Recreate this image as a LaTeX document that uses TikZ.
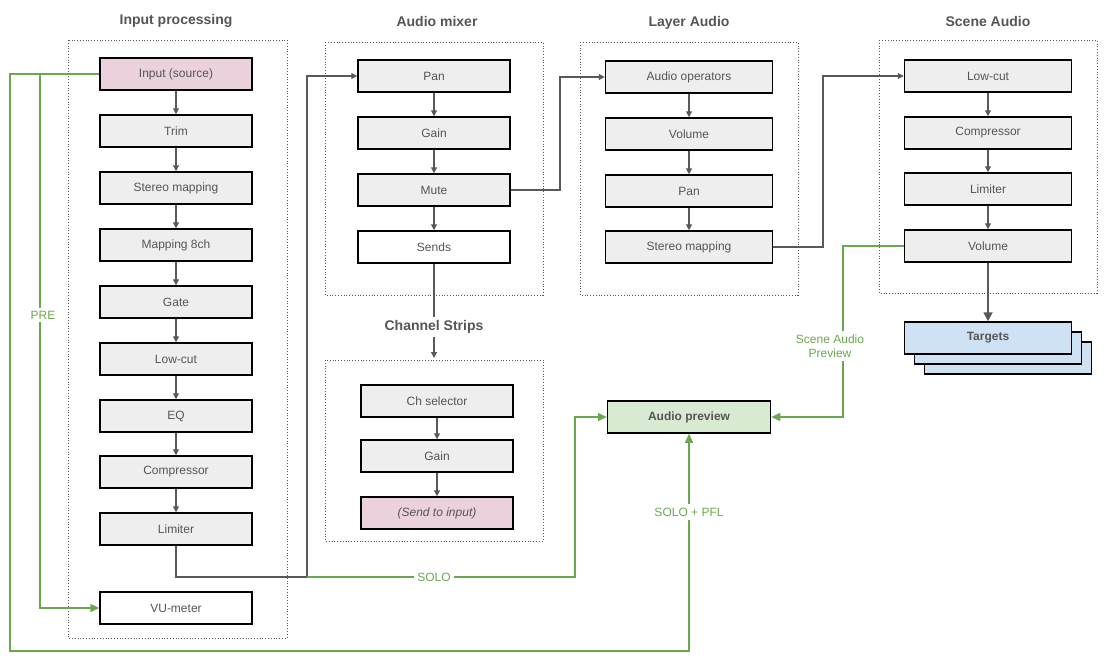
\documentclass[tikz,border=0pt]{standalone}
\usepackage{fontspec}
\setmainfont{Liberation Sans}
\usepackage{xcolor}
\usetikzlibrary{arrows.meta}
\definecolor{boxgray}{HTML}{EEEEEE}
\definecolor{boxpink}{HTML}{EAD1DC}
\definecolor{boxblue}{HTML}{CFE2F3}
\definecolor{boxgreen}{HTML}{D9EAD3}
\definecolor{linegreen}{HTML}{6AA84F}
\definecolor{linegray}{HTML}{595959}
\definecolor{txtgray}{HTML}{555555}
\tikzset{
  blk/.style={draw=black, line width=1.5pt, fill=boxgray, minimum width=152pt, minimum height=32pt, inner sep=0pt, text=txtgray, font=\fontsize{12}{14}\selectfont},
  wblk/.style={blk, minimum width=167pt},
  frame/.style={draw=linegray, dotted, line width=0.8pt},
  ttl/.style={text=txtgray, font=\bfseries\fontsize{14}{16}\selectfont},
  flow/.style={draw=linegray, line width=1.2pt, -{Triangle[length=6pt,width=6pt]}},
  gflow/.style={draw=linegreen, line width=1.5pt, -{Triangle[length=9pt,width=8pt]}},
  glbl/.style={text=linegreen, fill=white, font=\fontsize{12}{14}\selectfont, align=center}
}
\begin{document}
\begin{tikzpicture}[x=1pt,y=-1pt]
\useasboundingbox (0,0) rectangle (1115,661);

% frames
\draw[frame] (68,40) rectangle (287,638);
\draw[frame] (325,42) rectangle (543,295);
\draw[frame] (325,360) rectangle (543,541);
\draw[frame] (580,42) rectangle (798,295);
\draw[frame] (879,40) rectangle (1097,293);

% titles
\node[ttl] (tin) at (176,21) {Input processing};
\node[ttl] (tmix) at (437,21) {Audio mixer};
\node[ttl] (tcs) at (434,327) {Channel Strips};
\node[ttl] (tla) at (689,23) {Layer Audio};
\node[ttl] (tsa) at (988,21) {Scene Audio};

% input processing
\node[blk, fill=boxpink] (in1) at (176,74) {Input (source)};
\node[blk] (in2) at (176,131) {Trim};
\node[blk] (in3) at (176,188) {Stereo mapping};
\node[blk] (in4) at (176,245) {Mapping 8ch};
\node[blk] (in5) at (176,302) {Gate};
\node[blk] (in6) at (176,359) {Low-cut};
\node[blk] (in7) at (176,416) {EQ};
\node[blk] (in8) at (176,472) {Compressor};
\node[blk] (in9) at (176,529) {Limiter};
\node[blk, fill=white] (vu) at (176,608) {VU-meter};
\foreach \a/\b in {in1/in2,in2/in3,in3/in4,in4/in5,in5/in6,in6/in7,in7/in8,in8/in9}
  \draw[flow] (\a) -- (\b);

% audio mixer
\node[blk] (mx1) at (434,76) {Pan};
\node[blk] (mx2) at (434,133) {Gain};
\node[blk] (mx3) at (434,190) {Mute};
\node[blk, fill=white] (mx4) at (434,247) {Sends};
\foreach \a/\b in {mx1/mx2,mx2/mx3,mx3/mx4}
  \draw[flow] (\a) -- (\b);

% channel strips
\node[blk] (cs1) at (437,401) {Ch selector};
\node[blk] (cs2) at (437,456) {Gain};
\node[blk, fill=boxpink] (cs3) at (437,513) {\itshape (Send to input)};
\foreach \a/\b in {cs1/cs2,cs2/cs3}
  \draw[flow] (\a) -- (\b);
\coordinate (csin) at (434,358);
\draw[draw=linegray, line width=1.2pt] (mx4) -- (tcs);
\draw[flow] (tcs) -- (csin);

% layer audio
\node[wblk] (la1) at (689,77) {Audio operators};
\node[wblk] (la2) at (689,134) {Volume};
\node[wblk] (la3) at (689,191) {Pan};
\node[wblk] (la4) at (689,247) {Stereo mapping};
\foreach \a/\b in {la1/la2,la2/la3,la3/la4}
  \draw[flow] (\a) -- (\b);

% scene audio
\node[wblk] (sa1) at (988,76) {Low-cut};
\node[wblk] (sa2) at (988,133) {Compressor};
\node[wblk] (sa3) at (988,189) {Limiter};
\node[wblk] (sa4) at (988,246) {Volume};
\foreach \a/\b in {sa1/sa2,sa2/sa3,sa3/sa4}
  \draw[flow] (\a) -- (\b);

% targets
\node[wblk, fill=boxblue] (tg3) at (1008,358) {};
\node[wblk, fill=boxblue] (tg2) at (998,348) {};
\node[wblk, fill=boxblue, font=\bfseries\fontsize{12}{14}\selectfont] (tg) at (988,338) {Targets};
\draw[flow, line width=1.8pt, -{Triangle[length=9pt,width=9pt]}] (sa4) -- (tg);

% audio preview
\node[wblk, fill=boxgreen, minimum width=163pt, font=\bfseries\fontsize{12}{14}\selectfont] (ap) at (689,417) {Audio preview};

% chain connectors
\draw[flow] (mx3.east) -| (560,133) |- (la1.west);
\draw[flow] (la4.east) -| (823,133) |- (sa1.west);
\draw[flow] (in9.south) |- (307,577) |- (mx1.west);

% green connectors
\draw[gflow] (in1.west) -| (10,651) -| (ap.south);
\node[glbl] (pfl) at (689,512) {SOLO + PFL};
\draw[gflow] (40,74) |- (vu.west);
\node[glbl] (pre) at (43,315) {PRE};
\draw[gflow] (307,577) -| (575,417) -- (ap.west);
\node[glbl] (solo) at (434,577) {SOLO};
\draw[gflow] (sa4.west) -| (843,417) -- (ap.east);
\node[glbl] (sap) at (830,346) {Scene Audio\\Preview};
\end{tikzpicture}
\end{document}
